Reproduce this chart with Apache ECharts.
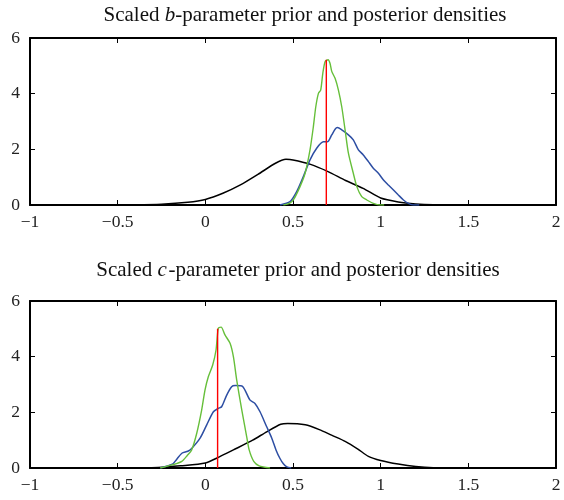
<!DOCTYPE html>
<html>
<head>
<meta charset="utf-8">
<script src="https://cdn.jsdelivr.net/npm/echarts@6/dist/echarts.min.js"></script>
<style>html,body{margin:0;padding:0;background:#fff;}#c{width:564px;height:500px;}</style>
</head>
<body>
<div id="c"></div>
<script>
// ---- data ----
const xTicks = [-1, -0.5, 0, 0.5, 1, 1.5, 2];
const yTicks = [0, 2, 4, 6];

// b-parameter panel
const bPriorX = [-0.7, -0.4, -0.25, -0.1, 0, 0.1, 0.2, 0.3, 0.4, 0.46, 0.5, 0.6, 0.7, 0.8, 0.9, 1.0, 1.1, 1.2, 1.3, 1.5, 1.75];
const bPriorY = [0, 0.01, 0.03, 0.1, 0.2, 0.42, 0.72, 1.1, 1.5, 1.64, 1.62, 1.46, 1.2, 0.88, 0.6, 0.25, 0.11, 0.04, 0.01, 0, 0];
const bGreenX = [0.445, 0.48, 0.502, 0.54, 0.569, 0.597, 0.616, 0.63, 0.645, 0.658, 0.67, 0.683, 0.70, 0.711, 0.721, 0.74, 0.759, 0.778, 0.797, 0.816, 0.844, 0.864, 0.892, 0.921, 0.958, 0.997, 1.02];
const bGreenY = [0, 0.06, 0.18, 0.66, 1.14, 1.98, 2.81, 3.53, 4.01, 4.13, 4.73, 5.15, 5.22, 5.09, 4.80, 4.55, 4.13, 3.53, 2.70, 1.86, 1.14, 0.66, 0.30, 0.18, 0.06, 0, 0];
const bBlueX = [0.426, 0.483, 0.521, 0.559, 0.597, 0.635, 0.673, 0.696, 0.721, 0.740, 0.753, 0.778, 0.816, 0.844, 0.873, 0.901, 0.930, 0.958, 0.987, 1.016, 1.044, 1.073, 1.101, 1.130, 1.158, 1.187, 1.22];
const bBlueY = [0, 0.12, 0.48, 1.02, 1.62, 2.04, 2.27, 2.27, 2.52, 2.72, 2.78, 2.70, 2.52, 2.34, 1.98, 1.80, 1.56, 1.32, 1.14, 0.90, 0.72, 0.54, 0.36, 0.18, 0.06, 0, 0];
const bTrueX = [0.69, 0.69];
const bTrueY = [0, 5.22];

// c-parameter panel
const cPriorX = [-0.5, -0.27, -0.14, 0, 0.08, 0.16, 0.27, 0.35, 0.43, 0.47, 0.57, 0.65, 0.72, 0.8, 0.87, 0.93, 1.0, 1.1, 1.2, 1.3, 1.6];
const cPriorY = [0, 0.02, 0.08, 0.18, 0.4, 0.65, 1.0, 1.3, 1.57, 1.6, 1.55, 1.38, 1.18, 0.95, 0.68, 0.42, 0.27, 0.14, 0.05, 0.01, 0];
const cGreenX = [-0.257, -0.185, -0.134, -0.103, -0.078, -0.049, -0.021, -0.002, 0.017, 0.042, 0.061, 0.074, 0.09, 0.112, 0.141, 0.160, 0.179, 0.208, 0.236, 0.25, 0.276, 0.307, 0.369];
const cGreenY = [0, 0.12, 0.24, 0.45, 0.65, 1.25, 2.08, 2.80, 3.28, 3.70, 4.24, 5.02, 5.06, 4.78, 4.48, 4.0, 3.16, 2.08, 1.12, 0.65, 0.24, 0.08, 0];
const cBlueX = [-0.257, -0.185, -0.165, -0.134, -0.10, -0.078, -0.030, 0.008, 0.046, 0.074, 0.093, 0.122, 0.150, 0.17, 0.208, 0.226, 0.255, 0.283, 0.312, 0.350, 0.379, 0.403, 0.425, 0.445, 0.465, 0.49];
const cBlueY = [0, 0.15, 0.3, 0.53, 0.6, 0.7, 1.07, 1.55, 2.02, 2.14, 2.20, 2.62, 2.92, 2.96, 2.95, 2.80, 2.44, 2.32, 2.02, 1.48, 1.07, 0.65, 0.35, 0.15, 0.04, 0];
const cTrueX = [0.07, 0.07];
const cTrueY = [0, 5.0];

// ---- chart ----
const FONT = 'Liberation Serif';
const zip = (xs, ys) => xs.map((x, i) => [x, ys[i]]);
const fmt = v => (v < 0 ? '\u2212' + Math.abs(v) : String(v));

function xAx(grid, pos, labels) {
  return {
    type: 'value', gridIndex: grid, position: pos,
    min: xTicks[0], max: xTicks[xTicks.length - 1], interval: 0.5,
    axisLine: { show: true, onZero: false, lineStyle: { color: '#000', width: 2 } },
    axisTick: { show: true, inside: true, length: 5, lineStyle: { color: '#000', width: 1 } },
    axisLabel: { show: labels, formatter: fmt, color: '#222', fontFamily: FONT, fontSize: 17.5, margin: 8 },
    splitLine: { show: false }
  };
}
function yAx(grid, pos, labels) {
  return {
    type: 'value', gridIndex: grid, position: pos,
    min: yTicks[0], max: yTicks[yTicks.length - 1], interval: 2,
    axisLine: { show: true, onZero: false, lineStyle: { color: '#000', width: 2 } },
    axisTick: { show: true, inside: true, length: 5, lineStyle: { color: '#000', width: 1 } },
    axisLabel: { show: labels, color: '#222', fontFamily: FONT, fontSize: 17.5, margin: 10 },
    splitLine: { show: false }
  };
}
function line(x, y, xi, yi, color, w, z) {
  return {
    type: 'line', xAxisIndex: xi, yAxisIndex: yi, data: zip(x, y),
    showSymbol: false, symbol: 'none', smooth: 0.25, z: z,
    lineStyle: { color: color, width: w }, animation: false
  };
}

const GREEN = '#66bf3a', BLUE = '#2d4ea3', RED = '#ff0000';
const titleRich = { i: { fontStyle: 'italic', fontFamily: FONT, fontSize: 21, fill: '#111' } };

const option = {
  animation: false,
  backgroundColor: '#fff',
  grid: [
    { left: 30, right: 8, top: 38, height: 167, show: false },
    { left: 30, right: 8, top: 301, height: 167, show: false }
  ],
  xAxis: [xAx(0, 'bottom', true), xAx(0, 'top', false), xAx(1, 'bottom', true), xAx(1, 'top', false)],
  yAxis: [yAx(0, 'left', true), yAx(0, 'right', false), yAx(1, 'left', true), yAx(1, 'right', false)],
  graphic: [
    { type: 'text', x: 305, y: 15, style: { text: 'Scaled {i|b}-parameter prior and posterior densities', fontFamily: FONT, fontSize: 21, fill: '#111', align: 'center', verticalAlign: 'middle', rich: titleRich } },
    { type: 'text', x: 298, y: 270, style: { text: 'Scaled {i|c}\u200A-parameter prior and posterior densities', fontFamily: FONT, fontSize: 21, fill: '#111', align: 'center', verticalAlign: 'middle', rich: titleRich } }
  ],
  series: [
    line(bPriorX, bPriorY, 0, 0, '#000', 1.5, 2),
    line(bBlueX, bBlueY, 0, 0, BLUE, 1.5, 3),
    line(bGreenX, bGreenY, 0, 0, GREEN, 1.4, 4),
    line(bTrueX, bTrueY, 0, 0, RED, 1.4, 5),
    line(cPriorX, cPriorY, 2, 2, '#000', 1.5, 2),
    line(cBlueX, cBlueY, 2, 2, BLUE, 1.5, 3),
    line(cGreenX, cGreenY, 2, 2, GREEN, 1.4, 4),
    line(cTrueX, cTrueY, 2, 2, RED, 1.4, 5)
  ]
};
const chart = echarts.init(document.getElementById('c'), null, { renderer: 'canvas' });
chart.setOption(option);
</script>
</body>
</html>
